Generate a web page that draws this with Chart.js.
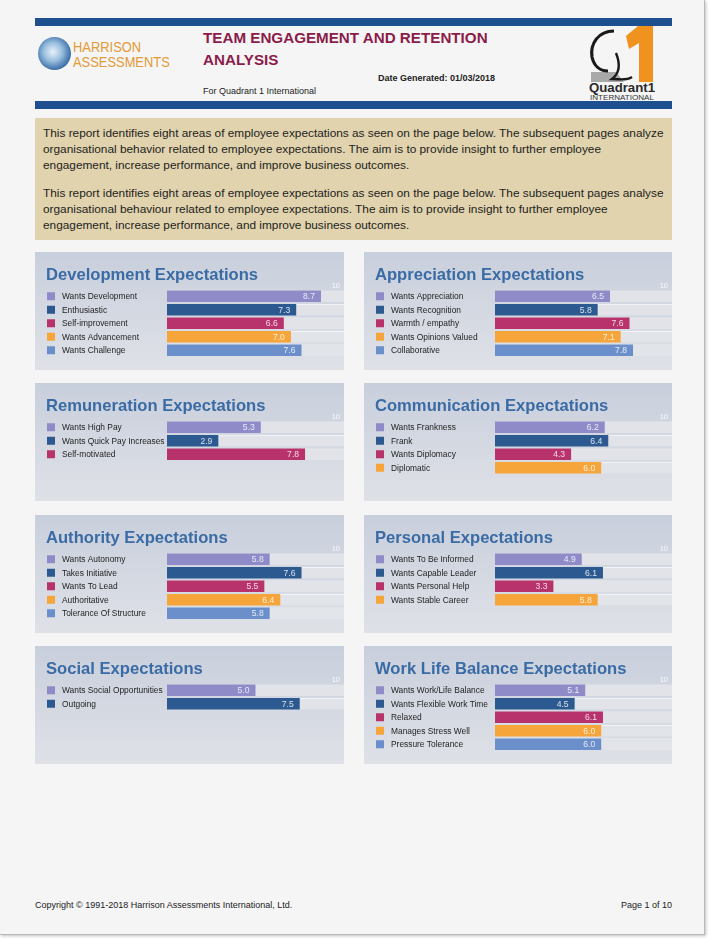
<!DOCTYPE html>
<html>
<head>
<meta charset="utf-8">
<script src="https://cdn.jsdelivr.net/npm/chart.js@4.4.1/dist/chart.umd.min.js"></script>
<style>
  html,body{margin:0;padding:0;background:#ffffff;}
  body{width:709px;height:940px;position:relative;overflow:hidden;font-family:"Liberation Sans",Arial,Helvetica,sans-serif;}
  #page{position:absolute;left:0;top:0;width:704px;height:934px;background:#f5f5f5;border-right:1px solid #b9b9b9;border-bottom:1px solid #b9b9b9;box-shadow:1px 1px 3px rgba(0,0,0,0.25);}
  .bluebar{position:absolute;left:35px;width:637px;height:8px;background:#1e4f8e;}
  .abs{position:absolute;white-space:nowrap;}
  #intro{position:absolute;left:35px;top:118px;width:637px;height:122px;background:#e0d3ad;}
  #intro p{margin:0;position:absolute;left:8px;font-size:11.83px;line-height:16px;color:#1e1e1e;white-space:nowrap;}
  canvas.panel{position:absolute;}
</style>
</head>
<body>
<div id="page">
  <div class="bluebar" style="top:18px;"></div>
  <div class="bluebar" style="top:101px;"></div>

  <!-- Harrison logo -->
  <div class="abs" style="left:38px;top:37px;width:33px;height:33px;border-radius:50%;background:radial-gradient(circle at 45% 45%, #e9f2fa 0%, #9cc0e0 35%, #3d6fa8 70%, #8a7a5a 85%, #c9a56a 100%);"></div>
  <div class="abs" style="left:73px;top:39px;font-size:15px;line-height:15px;color:#e49a35;transform:scaleX(0.86);transform-origin:left top;">HARRISON<br>ASSESSMENTS</div>

  <div class="abs" style="left:203px;top:27px;font-size:15.2px;line-height:22px;font-weight:bold;color:#8b1c4a;">TEAM ENGAGEMENT AND RETENTION<br>ANALYSIS</div>
  <div class="abs" style="left:378px;top:73px;font-size:9px;font-weight:bold;color:#222;">Date Generated: 01/03/2018</div>
  <div class="abs" style="left:203px;top:86px;font-size:9px;color:#222;">For Quadrant 1 International</div>

  <!-- Quadrant 1 logo -->
  <svg class="abs" style="left:586px;top:26px;" width="72" height="75" viewBox="0 0 72 75">
    <path d="M5 46 L30 46 L38 56 L5 56 Z" fill="#a9a9a9"/>
    <path d="M40 10 L52 0 L67 0 L67 56 L53 56 L53 17 L43 23 Z" fill="#f0921e"/>
    <path d="M28 5 C12 5 4 18 6 31 C8 40 14 45 22 45" fill="none" stroke="#1a1a1a" stroke-width="3.2"/>
    <path d="M30 27 C34 37 34 47 26 53 C34 53 40 55 46 51" fill="none" stroke="#1a1a1a" stroke-width="2.4"/>
    <text x="36" y="66" text-anchor="middle" font-family="Liberation Sans Narrow, Liberation Sans, Arial" font-weight="bold" font-size="13" fill="#2a2a2a" textLength="66" lengthAdjust="spacingAndGlyphs">Quadrant1</text>
    <text x="36" y="74" text-anchor="middle" font-family="Liberation Sans, Arial" font-size="6.8" fill="#333" textLength="64" lengthAdjust="spacingAndGlyphs">INTERNATIONAL</text>
  </svg>

  <div id="intro">
    <p style="top:7px;">This report identifies eight areas of employee expectations as seen on the page below. The subsequent pages analyze<br>organisational behavior related to employee expectations. The aim is to provide insight to further employee<br>engagement, increase performance, and improve business outcomes.</p>
    <p style="top:67px;">This report identifies eight areas of employee expectations as seen on the page below. The subsequent pages analyse<br>organisational behaviour related to employee expectations. The aim is to provide insight to further employee<br>engagement, increase performance, and improve business outcomes.</p>
  </div>

  <canvas class="panel" id="c0" width="309" height="118" style="left:35px;top:252px;"></canvas>
  <canvas class="panel" id="c1" width="308" height="118" style="left:364px;top:252px;"></canvas>
  <canvas class="panel" id="c2" width="309" height="118" style="left:35px;top:383px;"></canvas>
  <canvas class="panel" id="c3" width="308" height="118" style="left:364px;top:383px;"></canvas>
  <canvas class="panel" id="c4" width="309" height="118" style="left:35px;top:515px;"></canvas>
  <canvas class="panel" id="c5" width="308" height="118" style="left:364px;top:515px;"></canvas>
  <canvas class="panel" id="c6" width="309" height="118" style="left:35px;top:646px;"></canvas>
  <canvas class="panel" id="c7" width="308" height="118" style="left:364px;top:646px;"></canvas>

  <div class="abs" style="left:35px;top:900px;font-size:9px;color:#222;">Copyright © 1991-2018 Harrison Assessments International, Ltd.</div>
  <div class="abs" style="right:32px;top:900px;font-size:9px;color:#222;">Page 1 of 10</div>
</div>

<script>
// ---------- DATA ----------
const scaleMax = 10;
const seriesColors = ['#8f8bc8', '#2c5a90', '#b8336c', '#f5a53a', '#6b8fca'];

const panelTitles = [
  'Development Expectations', 'Appreciation Expectations',
  'Remuneration Expectations', 'Communication Expectations',
  'Authority Expectations', 'Personal Expectations',
  'Social Expectations', 'Work Life Balance Expectations'
];

const developmentLabels = ['Wants Development', 'Enthusiastic', 'Self-improvement', 'Wants Advancement', 'Wants Challenge'];
const developmentValues = [8.7, 7.3, 6.6, 7.0, 7.6];

const appreciationLabels = ['Wants Appreciation', 'Wants Recognition', 'Warmth / empathy', 'Wants Opinions Valued', 'Collaborative'];
const appreciationValues = [6.5, 5.8, 7.6, 7.1, 7.8];

const remunerationLabels = ['Wants High Pay', 'Wants Quick Pay Increases', 'Self-motivated'];
const remunerationValues = [5.3, 2.9, 7.8];

const communicationLabels = ['Wants Frankness', 'Frank', 'Wants Diplomacy', 'Diplomatic'];
const communicationValues = [6.2, 6.4, 4.3, 6.0];

const authorityLabels = ['Wants Autonomy', 'Takes Initiative', 'Wants To Lead', 'Authoritative', 'Tolerance Of Structure'];
const authorityValues = [5.8, 7.6, 5.5, 6.4, 5.8];

const personalLabels = ['Wants To Be Informed', 'Wants Capable Leader', 'Wants Personal Help', 'Wants Stable Career'];
const personalValues = [4.9, 6.1, 3.3, 5.8];

const socialLabels = ['Wants Social Opportunities', 'Outgoing'];
const socialValues = [5.0, 7.5];

const workLifeLabels = ['Wants Work/Life Balance', 'Wants Flexible Work Time', 'Relaxed', 'Manages Stress Well', 'Pressure Tolerance'];
const workLifeValues = [5.1, 4.5, 6.1, 6.0, 6.0];

// ---------- CHARTS ----------
const FONT = '"Liberation Sans", Arial, Helvetica, sans-serif';
const ROW = 13.5;
const TOP = 37.5;

const panelPlugin = {
  id: 'panelPlugin',
  beforeDraw(chart) {
    const ctx = chart.ctx, w = chart.width, h = chart.height;
    ctx.save();
    const g = ctx.createLinearGradient(0, 0, 0, h);
    g.addColorStop(0, '#c8cfdc');
    g.addColorStop(1, '#dfe1e7');
    ctx.fillStyle = g;
    ctx.fillRect(0, 0, w, h);
    ctx.fillStyle = '#3a6ba4';
    ctx.font = 'bold 16.6px ' + FONT;
    ctx.textBaseline = 'alphabetic';
    ctx.textAlign = 'left';
    ctx.fillText(chart.options.plugins.panelPlugin.title, 11, 28);
    ctx.fillStyle = 'rgba(255,255,255,0.85)';
    ctx.font = '7.5px ' + FONT;
    ctx.textAlign = 'right';
    ctx.textBaseline = 'middle';
    ctx.fillText(String(scaleMax), w - 4, chart.chartArea.top - 4);
    ctx.restore();
  },
  afterDatasetsDraw(chart) {
    const ctx = chart.ctx;
    const labels = chart.data.labels;
    const yScale = chart.scales.y;
    const meta = chart.getDatasetMeta(0);
    const values = chart.data.datasets[0].data;
    ctx.save();
    labels.forEach((lab, i) => {
      const y = yScale.getPixelForValue(i);
      ctx.fillStyle = seriesColors[i];
      ctx.fillRect(12, y - 4, 8, 8);
      ctx.fillStyle = '#1e1e1e';
      ctx.font = '8.4px ' + FONT;
      ctx.textAlign = 'left';
      ctx.textBaseline = 'middle';
      ctx.fillText(lab, 27, y + 0.5);
      const bar = meta.data[i];
      ctx.fillStyle = 'rgba(255,255,255,0.82)';
      ctx.font = '8.6px ' + FONT;
      ctx.textAlign = 'right';
      ctx.fillText(values[i].toFixed(1), bar.x - 6, bar.y + 0.5);
    });
    ctx.restore();
  }
};

function makePanel(canvasId, title, labels, values) {
  const canvas = document.getElementById(canvasId);
  const h = canvas.height;
  const leftPad = canvas.width - 177;
  new Chart(canvas, {
    type: 'bar',
    data: {
      labels: labels,
      datasets: [
        {
          data: values,
          backgroundColor: labels.map((_, i) => seriesColors[i]),
          borderWidth: 0,
          order: 0,
          grouped: false,
          barPercentage: 0.85,
          categoryPercentage: 1
        },
        {
          data: labels.map(() => scaleMax),
          backgroundColor: 'rgba(226,228,233,0.95)',
          borderColor: 'rgba(245,246,248,0.9)',
          borderWidth: {top: 1, bottom: 0, left: 0, right: 0},
          borderSkipped: false,
          order: 1,
          grouped: false,
          barPercentage: 0.85,
          categoryPercentage: 1
        }
      ]
    },
    options: {
      indexAxis: 'y',
      responsive: false,
      animation: false,
      devicePixelRatio: 1,
      layout: { padding: { left: leftPad, right: 0, top: TOP, bottom: h - TOP - labels.length * ROW } },
      scales: {
        x: { display: false, min: 0, max: scaleMax },
        y: { display: false }
      },
      plugins: {
        legend: { display: false },
        tooltip: { enabled: false },
        panelPlugin: { title: title }
      }
    },
    plugins: [panelPlugin]
  });
}

makePanel('c0', panelTitles[0], developmentLabels, developmentValues);
makePanel('c1', panelTitles[1], appreciationLabels, appreciationValues);
makePanel('c2', panelTitles[2], remunerationLabels, remunerationValues);
makePanel('c3', panelTitles[3], communicationLabels, communicationValues);
makePanel('c4', panelTitles[4], authorityLabels, authorityValues);
makePanel('c5', panelTitles[5], personalLabels, personalValues);
makePanel('c6', panelTitles[6], socialLabels, socialValues);
makePanel('c7', panelTitles[7], workLifeLabels, workLifeValues);
</script>
</body>
</html>
